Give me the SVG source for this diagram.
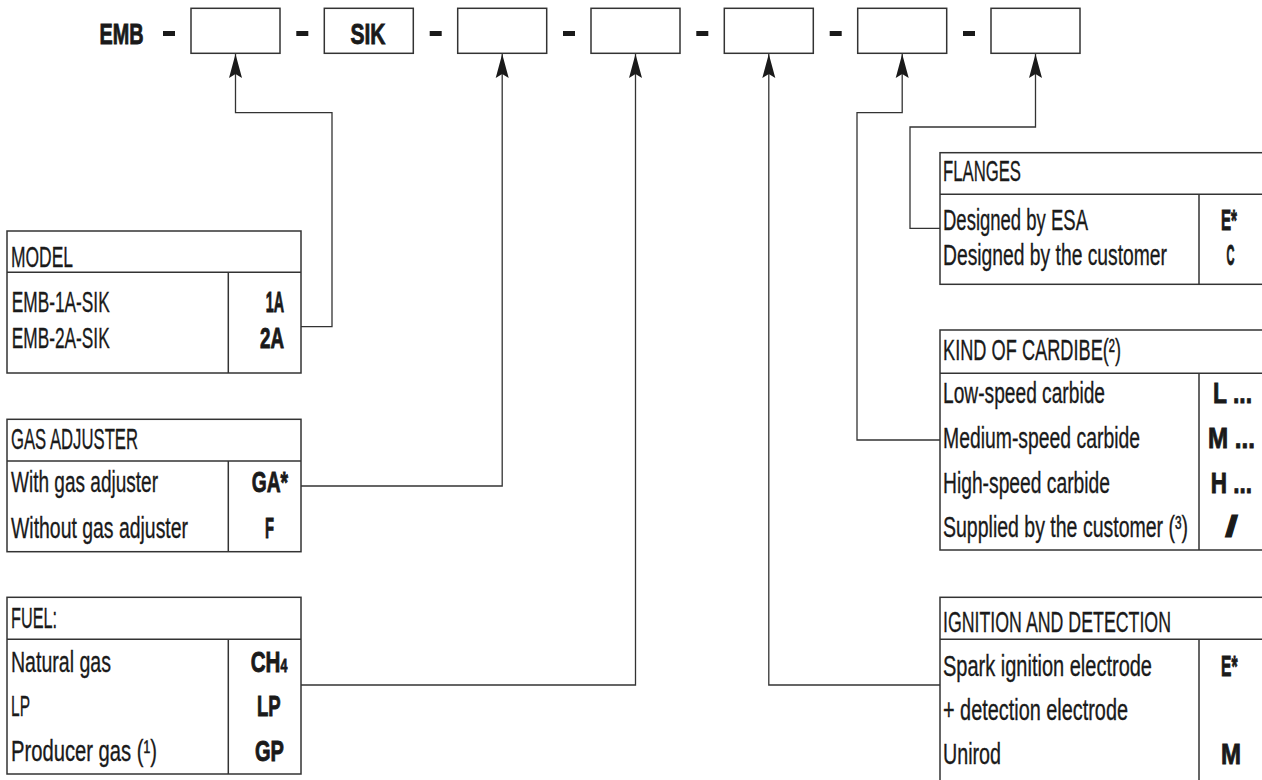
<svg xmlns="http://www.w3.org/2000/svg" width="1262" height="780" viewBox="0 0 1262 780">
<defs>
<style>
.t{font-family:"Liberation Sans Narrow","Liberation Sans",Arial,sans-serif;font-size:30px;fill:#1a1a1a;stroke:#1a1a1a;stroke-width:0.35}
.b{font-weight:bold;stroke-width:0.9}
.bx{fill:#fff;stroke:#333;stroke-width:1.5}
.ln{fill:none;stroke:#333;stroke-width:1.5}
.cn{fill:none;stroke:#333;stroke-width:1.3}
.dash{fill:#1a1a1a}
</style>
<marker id="arr" viewBox="-25 -7 25 14" refX="0" refY="0" markerWidth="25" markerHeight="14" markerUnits="userSpaceOnUse" orient="auto">
<path d="M0,0 L-24,-6.5 L-20,0 L-24,6.5 Z" fill="#1a1a1a"/>
</marker>
</defs>
<rect width="1262" height="780" fill="#fff"/>

<g id="code">
<text class="t b" x="99.6" y="44" textLength="44" lengthAdjust="spacingAndGlyphs">EMB</text>
<rect class="dash" x="163" y="31" width="12" height="5"/>
<rect class="bx" x="191" y="8.3" width="89" height="45"/>
<rect class="dash" x="296.3" y="31" width="12" height="5"/>
<rect class="bx" x="324.3" y="8.3" width="89" height="45"/>
<text class="t b" x="350.4" y="44" textLength="35" lengthAdjust="spacingAndGlyphs">SIK</text>
<rect class="dash" x="429.7" y="31" width="12" height="5"/>
<rect class="bx" x="457.7" y="8.3" width="89" height="45"/>
<rect class="dash" x="563" y="31" width="12" height="5"/>
<rect class="bx" x="591" y="8.3" width="89" height="45"/>
<rect class="dash" x="696.3" y="31" width="12" height="5"/>
<rect class="bx" x="724.3" y="8.3" width="89" height="45"/>
<rect class="dash" x="829.7" y="31" width="12" height="5"/>
<rect class="bx" x="857.7" y="8.3" width="89" height="45"/>
<rect class="dash" x="963" y="31" width="12" height="5"/>
<rect class="bx" x="991" y="8.3" width="89" height="45"/>
</g>

<g id="connectors">
<path class="cn" d="M301,326.7 H332 V112.7 H235.5 V54" marker-end="url(#arr)"/>
<path class="cn" d="M301,486 H502.2 V54" marker-end="url(#arr)"/>
<path class="cn" d="M301,685 H635.5 V54" marker-end="url(#arr)"/>
<path class="cn" d="M940,685 H768.8 V54" marker-end="url(#arr)"/>
<path class="cn" d="M940,440 H857 V112.7 H902.2 V54" marker-end="url(#arr)"/>
<path class="cn" d="M940,228.3 H910 V127 H1035.5 V54" marker-end="url(#arr)"/>
</g>

<g id="model">
<rect class="bx" x="7" y="231" width="294" height="142"/>
<path class="ln" d="M7,272.3 H301 M228.3,272.3 V373"/>
<text class="t" x="11" y="266.5" textLength="62" lengthAdjust="spacingAndGlyphs">MODEL</text>
<text class="t" x="11.7" y="311.5" textLength="98" lengthAdjust="spacingAndGlyphs">EMB-1A-SIK</text>
<text class="t" x="11.7" y="348.3" textLength="98" lengthAdjust="spacingAndGlyphs">EMB-2A-SIK</text>
<text class="t b" x="265.7" y="311.5" textLength="18.3" lengthAdjust="spacingAndGlyphs">1A</text>
<text class="t b" x="260" y="348.3" textLength="24" lengthAdjust="spacingAndGlyphs">2A</text>
</g>

<g id="gas-adjuster">
<rect class="bx" x="7" y="419.3" width="294" height="132.4"/>
<path class="ln" d="M7,461 H301 M228.3,461 V551.7"/>
<text class="t" x="11" y="449" textLength="127" lengthAdjust="spacingAndGlyphs">GAS ADJUSTER</text>
<text class="t" x="11" y="491.7" textLength="147" lengthAdjust="spacingAndGlyphs">With gas adjuster</text>
<text class="t" x="11" y="538" textLength="177" lengthAdjust="spacingAndGlyphs">Without gas adjuster</text>
<text class="t b" x="251.7" y="491.7" textLength="36.3" lengthAdjust="spacingAndGlyphs">GA*</text>
<text class="t b" x="265" y="538" textLength="9" lengthAdjust="spacingAndGlyphs">F</text>
</g>

<g id="fuel">
<rect class="bx" x="7" y="597.3" width="294" height="176.7"/>
<path class="ln" d="M7,639.3 H301 M228.3,639.3 V774"/>
<text class="t" x="11" y="628.3" textLength="46" lengthAdjust="spacingAndGlyphs">FUEL:</text>
<text class="t" x="11" y="671.7" textLength="100" lengthAdjust="spacingAndGlyphs">Natural gas</text>
<text class="t" x="11" y="716" textLength="19" lengthAdjust="spacingAndGlyphs">LP</text>
<text class="t" x="11" y="760.7" textLength="146" lengthAdjust="spacingAndGlyphs">Producer gas  (¹)</text>
<text class="t b" x="250.7" y="671.7" textLength="36.6" lengthAdjust="spacingAndGlyphs">CH<tspan font-size="18">4</tspan></text>
<text class="t b" x="257" y="716" textLength="23.7" lengthAdjust="spacingAndGlyphs">LP</text>
<text class="t b" x="255" y="760.7" textLength="29" lengthAdjust="spacingAndGlyphs">GP</text>
</g>

<g id="flanges">
<rect class="bx" x="940" y="152.7" width="340" height="131.6"/>
<path class="ln" d="M940,194.3 H1280 M1199,194.3 V284.3"/>
<text class="t" x="943" y="180.7" textLength="78" lengthAdjust="spacingAndGlyphs">FLANGES</text>
<text class="t" x="943" y="230" textLength="145" lengthAdjust="spacingAndGlyphs">Designed by ESA</text>
<text class="t" x="943" y="265" textLength="224" lengthAdjust="spacingAndGlyphs">Designed by the customer</text>
<text class="t b" x="1221" y="230" textLength="16" lengthAdjust="spacingAndGlyphs">E*</text>
<text class="t b" x="1226.6" y="265" textLength="8" lengthAdjust="spacingAndGlyphs">C</text>
</g>

<g id="carbide">
<rect class="bx" x="940" y="330" width="340" height="220"/>
<path class="ln" d="M940,373.3 H1280 M1199,373.3 V550"/>
<text class="t" x="943" y="360" textLength="178" lengthAdjust="spacingAndGlyphs">KIND OF CARDIBE(²)</text>
<text class="t" x="943" y="403.3" textLength="162" lengthAdjust="spacingAndGlyphs">Low-speed carbide</text>
<text class="t" x="943" y="448.3" textLength="197" lengthAdjust="spacingAndGlyphs">Medium-speed carbide</text>
<text class="t" x="943" y="493.3" textLength="167" lengthAdjust="spacingAndGlyphs">High-speed carbide</text>
<text class="t" x="943" y="537" textLength="245" lengthAdjust="spacingAndGlyphs">Supplied by the customer (³)</text>
<text class="t b" x="1213" y="403.3" textLength="39" lengthAdjust="spacingAndGlyphs">L ...</text>
<text class="t b" x="1208" y="448.3" textLength="47" lengthAdjust="spacingAndGlyphs">M ...</text>
<text class="t b" x="1210.7" y="493.3" textLength="41.3" lengthAdjust="spacingAndGlyphs">H ...</text>
<text class="t b" x="1225" y="537" textLength="13" lengthAdjust="spacingAndGlyphs">/</text>
</g>

<g id="ignition">
<rect class="bx" x="940" y="597.3" width="340" height="220"/>
<path class="ln" d="M940,639.3 H1280 M1199,639.3 V800"/>
<text class="t" x="943" y="632" textLength="228" lengthAdjust="spacingAndGlyphs">IGNITION AND DETECTION</text>
<text class="t" x="943" y="676" textLength="209" lengthAdjust="spacingAndGlyphs">Spark ignition electrode</text>
<text class="t" x="943" y="720" textLength="185" lengthAdjust="spacingAndGlyphs">+ detection electrode</text>
<text class="t" x="943" y="764" textLength="58" lengthAdjust="spacingAndGlyphs">Unirod</text>
<text class="t b" x="1221" y="676" textLength="16.5" lengthAdjust="spacingAndGlyphs">E*</text>
<text class="t b" x="1221" y="764" textLength="20" lengthAdjust="spacingAndGlyphs">M</text>
</g>
</svg>
